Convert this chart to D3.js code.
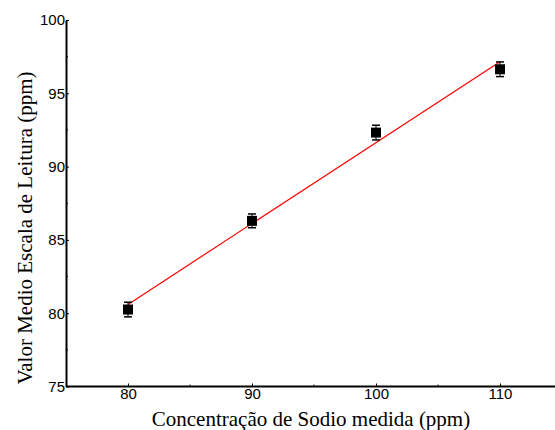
<!DOCTYPE html>
<html>
<head>
<meta charset="utf-8">
<script src="https://cdn.jsdelivr.net/npm/d3@7"></script>
<style>
  body { margin: 0; background: #fff; }
  svg { display: block; }
</style>
</head>
<body>
<div id="container"></div>
<script>
// measured sodium concentration vs mean reading
const concentration = [80, 90, 100, 110];
const readingMean = [80.25, 86.3, 92.32, 96.64];
const readingErr = [0.5, 0.47, 0.5, 0.5];
const xTicks = [80, 90, 100, 110];
const yTicks = [75, 80, 85, 90, 95, 100];

const width = 555, height = 430;
const sansFont = "'Liberation Sans', Arial, sans-serif";
const serifFont = "'Liberation Serif', 'Times New Roman', serif";

const x = d3.scaleLinear().domain([75, 115]).range([66, 562]);
const y = d3.scaleLinear().domain([75, 100]).range([386.5, 20]);

const svg = d3.select("#container").append("svg")
  .attr("width", width).attr("height", height);

// least squares fit
const mx = d3.mean(concentration), my = d3.mean(readingMean);
let sxy = 0, sxx = 0;
concentration.forEach((c, i) => {
  sxy += (c - mx) * (readingMean[i] - my);
  sxx += (c - mx) * (c - mx);
});
const slope = sxy / sxx;
const intercept = my - slope * mx;

// x axis
const xAxis = svg.append("g")
  .attr("transform", `translate(0,${y(75)})`)
  .call(d3.axisBottom(x).tickValues(xTicks).tickSize(-3).tickPadding(2).tickSizeOuter(0));
xAxis.select(".domain").attr("d", `M${x(75)},0H${width}`).attr("stroke-width", 2);
xAxis.selectAll("text").attr("font-family", sansFont).attr("font-size", 15).attr("fill", "#000");
xAxis.selectAll(".tick line").attr("stroke", "#000");
xAxis.selectAll(".minor").data([85, 95, 105]).enter().append("line")
  .attr("x1", d => x(d)).attr("x2", d => x(d)).attr("y1", 0).attr("y2", -2)
  .attr("stroke", "#000");

// y axis
const yAxis = svg.append("g")
  .attr("transform", `translate(${x(75)},0)`)
  .call(d3.axisLeft(y).tickValues(yTicks).tickSize(-3).tickPadding(1).tickSizeOuter(0));
yAxis.select(".domain").attr("stroke-width", 2);
yAxis.selectAll("text").attr("font-family", sansFont).attr("font-size", 15).attr("fill", "#000");
yAxis.selectAll(".tick line").attr("stroke", "#000");
yAxis.selectAll(".minor").data([77.5, 82.5, 87.5, 92.5, 97.5]).enter().append("line")
  .attr("x1", 0).attr("x2", 2).attr("y1", d => y(d)).attr("y2", d => y(d))
  .attr("stroke", "#000");

// fit line
svg.append("line")
  .attr("x1", x(80)).attr("y1", y(slope * 80 + intercept))
  .attr("x2", x(110)).attr("y2", y(slope * 110 + intercept))
  .attr("stroke", "#ff0000").attr("stroke-width", 1.2);

// error bars and points
const pts = svg.append("g");
concentration.forEach((c, i) => {
  const cx = x(c), top = y(readingMean[i] + readingErr[i]), bot = y(readingMean[i] - readingErr[i]);
  pts.append("line").attr("x1", cx).attr("x2", cx).attr("y1", top).attr("y2", bot).attr("stroke", "#000");
  pts.append("line").attr("x1", cx - 4).attr("x2", cx + 4).attr("y1", top).attr("y2", top).attr("stroke", "#000").attr("stroke-width", 1.5);
  pts.append("line").attr("x1", cx - 4).attr("x2", cx + 4).attr("y1", bot).attr("y2", bot).attr("stroke", "#000").attr("stroke-width", 1.5);
  pts.append("rect").attr("x", cx - 5).attr("y", y(readingMean[i]) - 5)
    .attr("width", 10).attr("height", 10).attr("fill", "#000");
});

// axis titles
svg.append("text")
  .attr("x", 311).attr("y", 426)
  .attr("text-anchor", "middle")
  .attr("font-family", serifFont)
  .attr("font-size", 21)
  .text("Concentração de Sodio medida (ppm)");

svg.append("text")
  .attr("transform", "translate(32,228) rotate(-90)")
  .attr("text-anchor", "middle")
  .attr("font-family", serifFont)
  .attr("font-size", 21)
  .text("Valor Medio Escala de Leitura (ppm)");
</script>
</body>
</html>
